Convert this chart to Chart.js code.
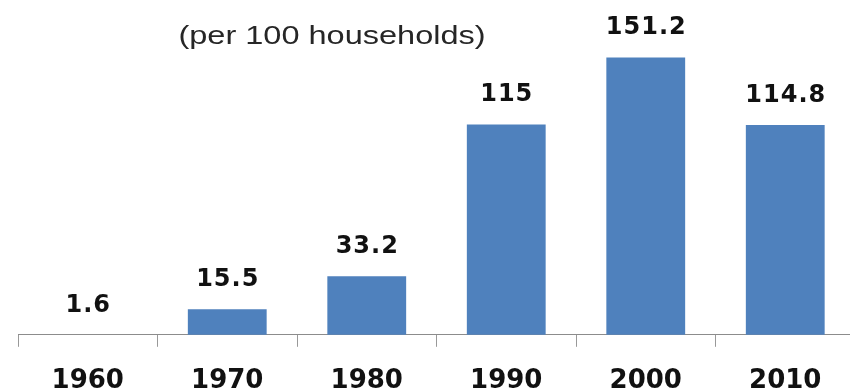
<!DOCTYPE html>
<html>
<head>
<meta charset="utf-8">
<script src="https://cdn.jsdelivr.net/npm/chart.js@4.4.1/dist/chart.umd.min.js"></script>
<style>
  html, body { margin: 0; padding: 0; background: #ffffff; overflow: hidden; }
  #wrap { position: relative; width: 850px; height: 392px; overflow: hidden; }
</style>
</head>
<body>
<div id="wrap"><canvas id="c" width="860" height="392"></canvas></div>
<script>
const categories = ['1960', '1970', '1980', '1990', '2000', '2010'];
const values = [1.6, 15.5, 33.2, 115, 151.2, 114.8];
const valueLabels = ['1.6', '15.5', '33.2', '115', '151.2', '114.8'];
const titleText = '(per 100 households)';

const valueLabelPlugin = {
  id: 'valueLabels',
  afterDatasetsDraw(chart) {
    const ctx = chart.ctx;
    const meta = chart.getDatasetMeta(0);
    ctx.save();
    ctx.font = 'bold 24px "DejaVu Sans"';
    ctx.fillStyle = '#111111';
    ctx.textAlign = 'center';
    ctx.textBaseline = 'middle';
    try { ctx.letterSpacing = '1px'; } catch (e) {}
    meta.data.forEach((bar, i) => {
      ctx.fillText(valueLabels[i], bar.x + 0.5, bar.y - 29.5);
    });
    ctx.restore();
  }
};

const titlePlugin = {
  id: 'stretchedTitle',
  afterDraw(chart) {
    const ctx = chart.ctx;
    const sx = 1.25;
    ctx.save();
    ctx.font = '26px "Liberation Sans"';
    ctx.fillStyle = '#262626';
    ctx.textAlign = 'center';
    ctx.textBaseline = 'alphabetic';
    ctx.scale(sx, 1);
    ctx.fillText(titleText, 332 / sx, 44);
    ctx.restore();
  }
};

new Chart(document.getElementById('c'), {
  type: 'bar',
  data: {
    labels: categories,
    datasets: [{
      data: values,
      backgroundColor: '#4F81BD',
      borderWidth: 0,
      categoryPercentage: 1.0,
      barPercentage: 0.565
    }]
  },
  options: {
    responsive: false,
    animation: false,
    devicePixelRatio: 1,
    layout: { padding: { left: 18, right: 5, top: 4, bottom: -24 } },
    plugins: {
      legend: { display: false },
      title: { display: false },
      tooltip: { enabled: false }
    },
    scales: {
      x: {
        grid: {
          display: true,
          drawOnChartArea: false,
          drawTicks: true,
          tickLength: 12,
          color: '#999999',
          offset: true
        },
        border: { display: true, color: '#8c8c8c', width: 1 },
        ticks: {
          color: '#111111',
          font: { family: 'DejaVu Sans', weight: 'bold', size: 26 },
          padding: 19,
          maxRotation: 0
        }
      },
      y: {
        display: false,
        min: 1.7,
        max: 180
      }
    }
  },
  plugins: [valueLabelPlugin, titlePlugin]
});
</script>
</body>
</html>
